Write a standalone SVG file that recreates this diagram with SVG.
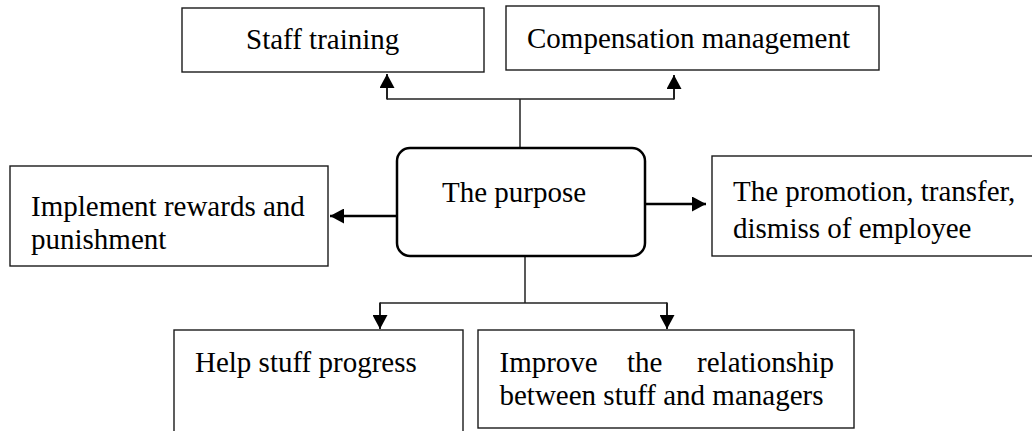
<svg xmlns="http://www.w3.org/2000/svg" width="1032" height="431" viewBox="0 0 1032 431">
<style>
  .box { fill: #fff; stroke: #1a1a1a; stroke-width: 1.4; }
  .main { fill: #fff; stroke: #000; stroke-width: 2.5; }
  .t { font-family: "Liberation Serif", "Times New Roman", serif; font-size: 29px; fill: #000; }
  .thin { fill: none; stroke: #222; stroke-width: 1.5; }
  .thick { fill: none; stroke: #000; stroke-width: 2.5; }
</style>
<defs>
  <marker id="ah" markerUnits="userSpaceOnUse" markerWidth="15" markerHeight="15" refX="14" refY="7.5" orient="auto">
    <path d="M0,0 L14,7.5 L0,15 z" fill="#000"/>
  </marker>
</defs>
<rect width="1032" height="431" fill="#fff"/>
<g id="connectors">
  <path class="thin" d="M520,148 V99"/>
  <path class="thin" d="M387,99 H674"/>
  <path class="thin" d="M387,99.5 V74" marker-end="url(#ah)" style="stroke-width:2"/>
  <path class="thin" d="M674,99.5 V75" marker-end="url(#ah)" style="stroke-width:2"/>
  <path class="thick" d="M396,216 H330" marker-end="url(#ah)"/>
  <path class="thick" d="M645,204 H706" marker-end="url(#ah)"/>
  <path class="thin" d="M525,257 V303"/>
  <path class="thin" d="M380,303 H667"/>
  <path class="thin" d="M380,302.5 V329" marker-end="url(#ah)" style="stroke-width:2"/>
  <path class="thin" d="M667,302.5 V329" marker-end="url(#ah)" style="stroke-width:2"/>
</g>
<g id="node-staff-training">
  <rect class="box" x="182" y="8" width="302" height="64"/>
  <text class="t" x="246" y="49">Staff training</text>
</g>
<g id="node-compensation">
  <rect class="box" x="506" y="6" width="373" height="64"/>
  <text class="t" x="527" y="48">Compensation management</text>
</g>
<g id="node-rewards">
  <rect class="box" x="10" y="166" width="318" height="100"/>
  <text class="t" x="31" y="216">Implement rewards and</text>
  <text class="t" x="31" y="249">punishment</text>
</g>
<g id="node-purpose">
  <rect class="main" x="397" y="148" width="248" height="108" rx="13"/>
  <text class="t" x="442" y="202">The purpose</text>
</g>
<g id="node-promotion">
  <rect class="box" x="712" y="156" width="330" height="100"/>
  <text class="t" x="733" y="201">The promotion, transfer,</text>
  <text class="t" x="733" y="238">dismiss of employee</text>
</g>
<g id="node-help">
  <rect class="box" x="174" y="330" width="289" height="110"/>
  <text class="t" x="195" y="372">Help stuff progress</text>
</g>
<g id="node-improve">
  <rect class="box" x="478" y="330" width="376" height="98"/>
  <text class="t" x="499.5" y="372">Improve</text>
  <text class="t" x="627" y="372">the</text>
  <text class="t" x="834" y="372" text-anchor="end">relationship</text>
  <text class="t" x="499.5" y="405">between stuff and managers</text>
</g>
</svg>
